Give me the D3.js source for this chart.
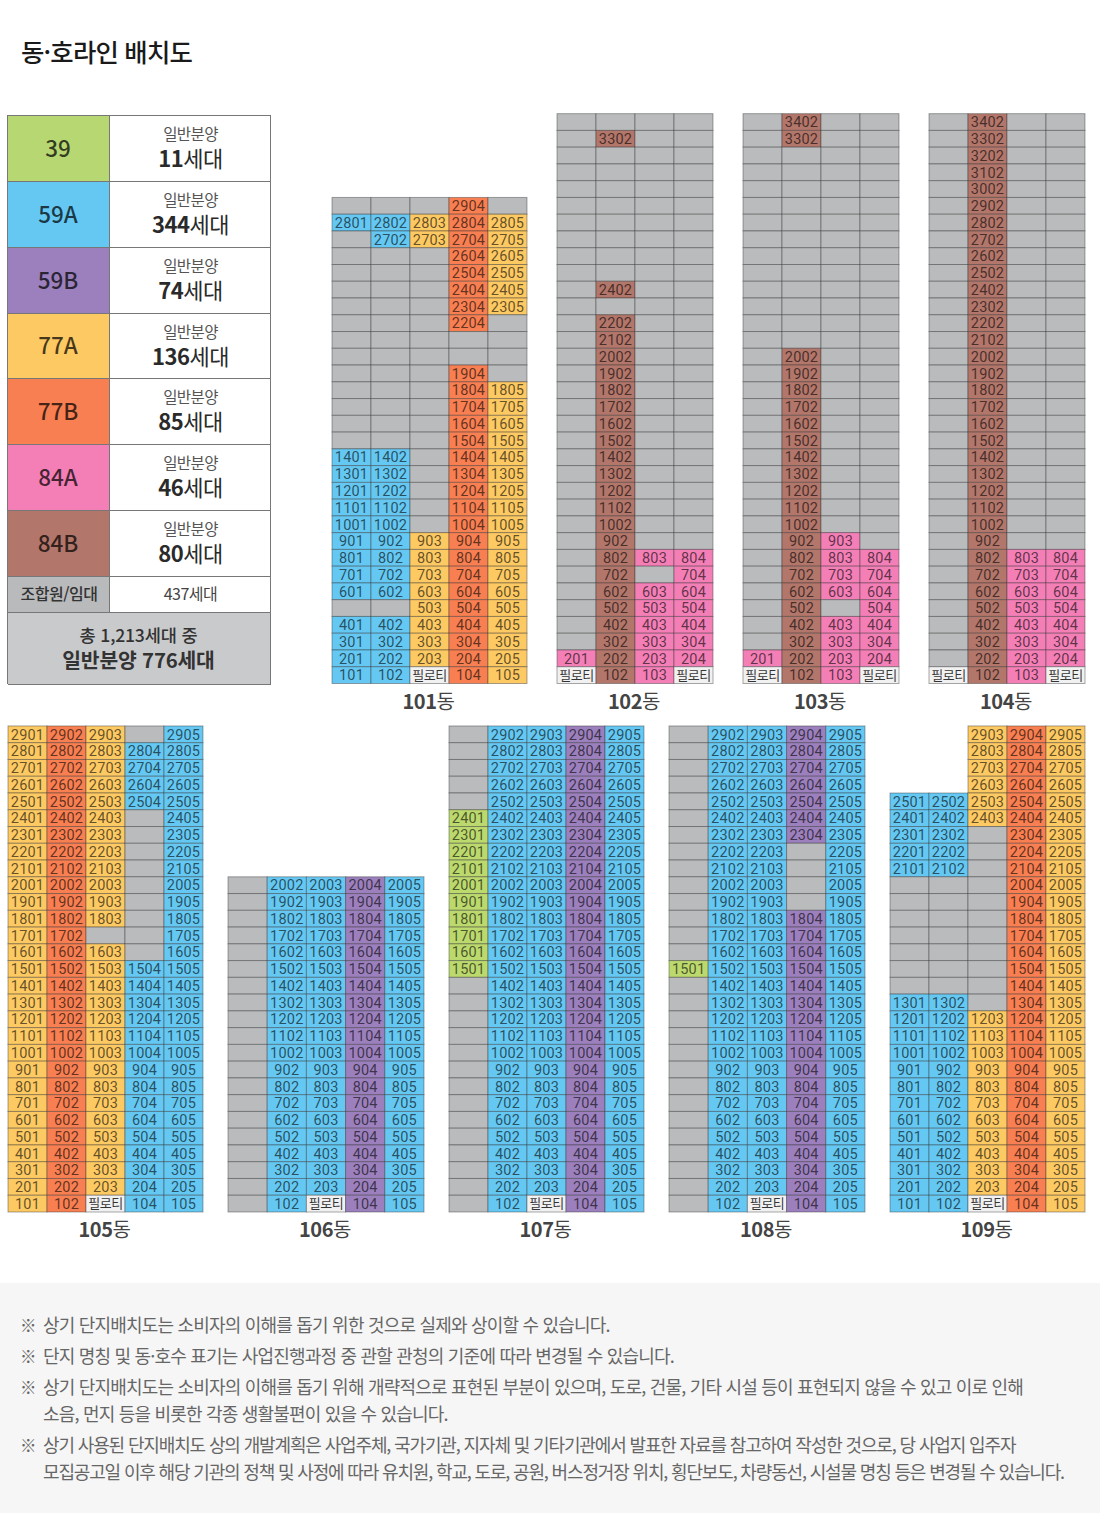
<!DOCTYPE html>
<html lang="ko"><head><meta charset="utf-8">
<script src="https://cdn.jsdelivr.net/npm/d3@7/dist/d3.min.js"></script>
<style>html,body{margin:0;padding:0;background:#fff}svg{display:block}</style>
</head><body><svg id="c" width="1100" height="1526"></svg>
<script>
// ---- DATA ----
const titleText = '동·호라인 배치도';
const legendTypes = ['39','59A','59B','77A','77B','84A','84B'];
const legendCounts = ['11','344','74','136','85','46','80'];
const legendSaleLabel = '일반분양';
const legendRestLabel = '조합원/임대';
const legendRestCount = '437세대';
const legendTotalLines = ['총 1,213세대 중','일반분양 776세대'];
const pilotiLabel = '필로티';

const buildingNames = ['101','102','103','104','105','106','107','108','109'];
const buildingFloors = [29,34,34,34,29,20,29,29,29];
const buildingColumns = [5,4,4,4,5,5,5,5,5];

// runs: [column, type, topFloor, bottomFloor]; anything not listed is gray, type 'P' = piloti
const runs101 = [[1,'59A',28,28],[1,'59A',14,6],[1,'59A',4,1],[2,'59A',28,27],[2,'59A',14,6],[2,'59A',4,1],
  [3,'77A',28,27],[3,'77A',9,2],[3,'P',1,1],[4,'77B',29,22],[4,'77B',19,1],[5,'77A',28,23],[5,'77A',18,1]];
const runs102 = [[1,'84A',2,2],[1,'P',1,1],[2,'84B',33,33],[2,'84B',24,24],[2,'84B',22,1],
  [3,'84A',8,8],[3,'84A',6,1],[4,'84A',8,2],[4,'P',1,1]];
const runs103 = [[1,'84A',2,2],[1,'P',1,1],[2,'84B',34,33],[2,'84B',20,1],
  [3,'84A',9,6],[3,'84A',4,1],[4,'84A',8,2],[4,'P',1,1]];
const runs104 = [[1,'P',1,1],[2,'84B',34,1],[3,'84A',8,1],[4,'84A',8,2],[4,'P',1,1]];
const runs105 = [[1,'77A',29,1],[2,'77B',29,1],[3,'77A',29,18],[3,'77A',16,2],[3,'P',1,1],
  [4,'59A',28,25],[4,'59A',15,1],[5,'59A',29,1]];
const runs106 = [[2,'59A',20,1],[3,'59A',20,2],[3,'P',1,1],[4,'59B',20,1],[5,'59A',20,1]];
const runs107 = [[1,'39',24,15],[2,'59A',29,1],[3,'59A',29,2],[3,'P',1,1],[4,'59B',29,1],[5,'59A',29,1]];
const runs108 = [[1,'39',15,15],[2,'59A',29,1],[3,'59A',29,2],[3,'P',1,1],[4,'59B',29,23],[4,'59B',18,1],[5,'59A',29,1]];
const runs109 = [[1,'59A',25,21],[1,'59A',13,1],[2,'59A',25,21],[2,'59A',13,1],
  [3,'77A',29,24],[3,'77A',12,2],[3,'P',1,1],[4,'77B',29,1],[5,'77A',29,1]];
const buildingRuns = [runs101,runs102,runs103,runs104,runs105,runs106,runs107,runs108,runs109];
// columns that stop below the roof: [building, column, highest floor]
const buildingColumnTops = [['109',1,25],['109',2,25]];

const noteLines = [
  ['※','상기 단지배치도는 소비자의 이해를 돕기 위한 것으로 실제와 상이할 수 있습니다.'],
  ['※','단지 명칭 및 동·호수 표기는 사업진행과정 중 관할 관청의 기준에 따라 변경될 수 있습니다.'],
  ['※','상기 단지배치도는 소비자의 이해를 돕기 위해 개략적으로 표현된 부분이 있으며, 도로, 건물, 기타 시설 등이 표현되지 않을 수 있고 이로 인해'],
  ['','소음, 먼지 등을 비롯한 각종 생활불편이 있을 수 있습니다.'],
  ['※','상기 사용된 단지배치도 상의 개발계획은 사업주체, 국가기관, 지자체 및 기타기관에서 발표한 자료를 참고하여 작성한 것으로, 당 사업지 입주자'],
  ['','모집공고일 이후 해당 기관의 정책 및 사정에 따라 유치원, 학교, 도로, 공원, 버스정거장 위치, 횡단보도, 차량동선, 시설물 명칭 등은 변경될 수 있습니다.']
];

// ---- LAYOUT & STYLE ----
const KR = '"Noto Sans CJK KR","Noto Sans",sans-serif';
const color = d3.scaleOrdinal()
  .domain(['39','59A','59B','77A','77B','84A','84B','gray','P'])
  .range(['#bcd96e','#65c8f3','#9c80bd','#fdc963','#f87f52','#f47fb7','#b3766a','#babbbd','#f1f1f1']);
const legendColor = t => t==='39' ? '#b7d772' : color(t);
const buildingLeft  = [332,557,743,929,8,228,449,669,890];
const buildingRight = [527,713,899,1085,203,424,644,865,1085];
const buildingBase  = [683.5,683.5,683.5,683.5,1212,1212,1212,1212,1212];
const rowH = 16.76;
const legendEdges = [115,181,247,313,378,444,510,576,612,684];
const noteY = [1326,1357,1388,1415,1446,1473];
const noteSpacing = [-0.8,-0.8,-0.8,-0.8,-1.14,-1.16];

const svg = d3.select('#c');

svg.append('text').text(titleText).attr('x',21).attr('y',53).attr('dy','.36em')
  .attr('font-family',KR).attr('font-size',25.4).attr('font-weight',500).attr('fill','#1a1a1a').attr('letter-spacing',-0.8);

// ---- Legend ----
const lg = svg.append('g');
const lx = d3.scaleOrdinal().domain(['l','m','r']).range([8,110,271]);
const legendRows = legendTypes.map((t,i)=>({t,c:legendCounts[i],y0:legendEdges[i],y1:legendEdges[i+1]}));
lg.selectAll('rect.a').data(legendRows).join('rect').attr('class','a')
  .attr('x',lx('l')).attr('y',d=>d.y0).attr('width',lx('m')-lx('l')).attr('height',d=>d.y1-d.y0).attr('fill',d=>legendColor(d.t));
lg.selectAll('rect.b').data(legendRows).join('rect').attr('class','b')
  .attr('x',lx('m')).attr('y',d=>d.y0).attr('width',lx('r')-lx('m')).attr('height',d=>d.y1-d.y0).attr('fill','#fff');
lg.selectAll('text.t').data(legendRows).join('text').attr('class','t').text(d=>d.t)
  .attr('x',(lx('l')+lx('m'))/2-1).attr('y',d=>(d.y0+d.y1)/2+.5).attr('dy','.36em').attr('text-anchor','middle')
  .attr('font-family',KR).attr('font-size',22.5).attr('font-weight',500).attr('fill','#000').attr('fill-opacity',.72);
const vc=(lx('m')+lx('r'))/2;
lg.selectAll('text.s').data(legendRows).join('text').attr('class','s').text(legendSaleLabel)
  .attr('x',vc).attr('y',d=>d.y0+19.5).attr('dy','.36em').attr('text-anchor','middle')
  .attr('font-family',KR).attr('font-size',15.5).attr('fill','#555').attr('letter-spacing',-0.6);
const cnt = lg.selectAll('text.c').data(legendRows).join('text').attr('class','c')
  .attr('x',vc).attr('y',d=>d.y0+44).attr('dy','.36em').attr('text-anchor','middle')
  .attr('font-family',KR).attr('font-size',22).attr('fill','#2a2a2a').attr('letter-spacing',-0.5);
cnt.append('tspan').text(d=>d.c).attr('font-weight',700);
cnt.append('tspan').text('세대').attr('font-weight',400);
// rest + total
lg.append('rect').attr('x',lx('l')).attr('y',legendEdges[7]).attr('width',lx('m')-lx('l')).attr('height',legendEdges[8]-legendEdges[7]).attr('fill','#b9babc');
lg.append('rect').attr('x',lx('l')).attr('y',legendEdges[8]).attr('width',lx('r')-lx('l')).attr('height',legendEdges[9]-legendEdges[8]).attr('fill','#c9cacc');
lg.append('text').text(legendRestLabel).attr('x',(lx('l')+lx('m'))/2).attr('y',(legendEdges[7]+legendEdges[8])/2).attr('dy','.36em').attr('text-anchor','middle')
  .attr('font-family',KR).attr('font-size',16).attr('font-weight',500).attr('fill','#333').attr('letter-spacing',-0.5);
lg.append('text').text(legendRestCount).attr('x',vc).attr('y',(legendEdges[7]+legendEdges[8])/2).attr('dy','.36em').attr('text-anchor','middle')
  .attr('font-family',KR).attr('font-size',16).attr('fill','#444').attr('letter-spacing',-0.5);
lg.append('text').text(legendTotalLines[0]).attr('x',(lx('l')+lx('r'))/2-1).attr('y',legendEdges[8]+24).attr('dy','.36em').attr('text-anchor','middle')
  .attr('font-family',KR).attr('font-size',17.6).attr('font-weight',500).attr('fill','#333').attr('letter-spacing',-0.2);
lg.append('text').text(legendTotalLines[1]).attr('x',(lx('l')+lx('r'))/2-1).attr('y',legendEdges[8]+49).attr('dy','.36em').attr('text-anchor','middle')
  .attr('font-family',KR).attr('font-size',20.4).attr('font-weight',700).attr('fill','#333').attr('letter-spacing',-0.2);
// rules
lg.selectAll('line.h').data(legendEdges).join('line').attr('class','h')
  .attr('x1',lx('l')).attr('x2',lx('r')).attr('y1',d=>d+.5).attr('y2',d=>d+.5).attr('stroke','#777');
lg.append('path').attr('fill','none').attr('stroke','#777')
  .attr('d',`M${lx('l')-.5},${legendEdges[0]}V${legendEdges[9]}M${lx('r')-.5},${legendEdges[0]}V${legendEdges[9]}M${lx('m')-.5},${legendEdges[0]}V${legendEdges[8]}`);

// ---- Buildings ----
buildingNames.forEach((name,i)=>{
  const floors = d3.range(buildingFloors[i],0,-1);
  const cols = d3.range(1,buildingColumns[i]+1);
  const x = d3.scaleBand().domain(cols).range([buildingLeft[i],buildingRight[i]]);
  const y = d3.scaleBand().domain(floors).range([buildingBase[i]-floors.length*rowH,buildingBase[i]]);
  const cap = c => { const t=buildingColumnTops.find(e=>e[0]===name&&e[1]===c); return t?t[2]:buildingFloors[i]; };
  const cells=[];
  cols.forEach(c=>floors.forEach(f=>{
    if(f>cap(c)) return;
    const run = buildingRuns[i].find(r=>r[0]===c&&f<=r[2]&&f>=r[3]);
    cells.push({c,f,type:run?run[1]:'gray'});
  }));
  const g = svg.append('g');
  g.selectAll('rect').data(cells).join('rect')
    .attr('x',d=>x(d.c)).attr('y',d=>y(d.f)).attr('width',x.bandwidth()).attr('height',y.bandwidth())
    .attr('fill',d=>color(d.type)).attr('stroke','#2f2f2f').attr('stroke-opacity',.42).attr('stroke-width',1);
  const labelled = cells.filter(d=>d.type!=='gray');
  g.selectAll('text').data(labelled).join('text')
    .text(d=>d.type==='P'?pilotiLabel:String(d.f*100+d.c))
    .attr('x',d=>x(d.c)+x.bandwidth()/2).attr('y',d=>y(d.f)+y.bandwidth()/2).attr('dy','.36em').attr('text-anchor','middle')
    .attr('font-family',d=>d.type==='P'?KR:'"Liberation Sans Narrow","Roboto",sans-serif')
    .attr('font-size',d=>d.type==='P'?13:14.5).attr('letter-spacing',d=>d.type==='P'?-0.5:0.2)
    .attr('fill','#000').attr('fill-opacity',d=>d.type==='P'?.8:.62);
  const lab = svg.append('text').attr('x',(buildingLeft[i]+buildingRight[i])/2-1).attr('y',buildingBase[i]+18).attr('dy','.36em').attr('text-anchor','middle')
    .attr('font-family',KR).attr('font-size',20).attr('fill','#444').attr('letter-spacing',-0.4);
  lab.append('tspan').text(name).attr('font-weight',700);
  lab.append('tspan').text('동').attr('font-weight',400);
});

// ---- Notes ----
svg.append('rect').attr('x',0).attr('y',1283).attr('width',1100).attr('height',230).attr('fill','#f6f6f6');
const nt = svg.append('g').attr('font-family',KR).attr('font-size',18).attr('fill','#666');
nt.selectAll('text.m').data(noteLines.filter(d=>d[0])).join('text').attr('class','m').text(d=>d[0])
  .attr('x',20).attr('y',d=>noteY[noteLines.indexOf(d)]).attr('dy','.36em').attr('font-size',16.5);
nt.selectAll('text.n').data(noteLines).join('text').attr('class','n').text(d=>d[1])
  .attr('x',43).attr('y',(d,i)=>noteY[i]).attr('dy','.36em').attr('letter-spacing',(d,i)=>noteSpacing[i]);
</script></body></html>
